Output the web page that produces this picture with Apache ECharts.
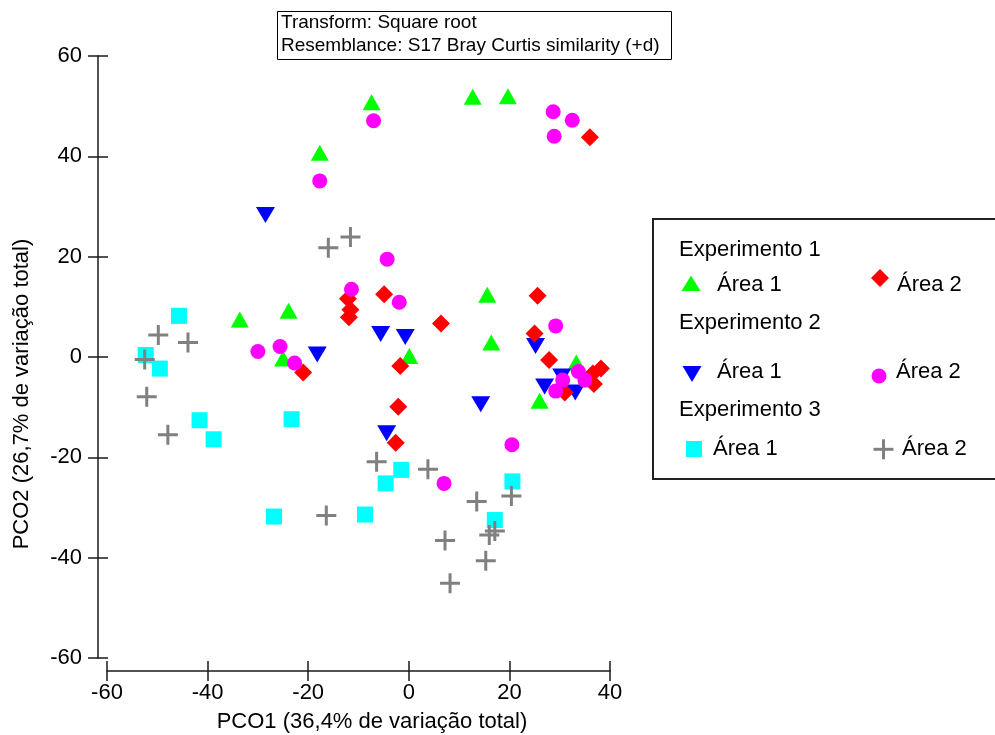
<!DOCTYPE html>
<html>
<head>
<meta charset="utf-8">
<script src="https://cdn.jsdelivr.net/npm/echarts@6/dist/echarts.min.js"></script>
<style>
  html, body { margin: 0; padding: 0; background: #ffffff; }
  #chart { width: 995px; height: 735px; }
</style>
</head>
<body>
<div id="chart"></div>
<script>
// PCO scores (PCO1, PCO2) per experiment and area
const exp1Area1 = [[-33.6, 7.5], [-23.9, 9.2], [-25.0, -0.3], [0.1, 0.2], [15.6, 12.4], [16.4, 2.9],
  [33.3, -1.1], [26.0, -8.7], [-7.4, 50.8], [-17.7, 40.7], [12.7, 51.9], [19.7, 52.0]];
const exp1Area2 = [[-21.0, -3.1], [-12.1, 11.6], [-11.6, 9.4], [-11.9, 7.9], [-4.9, 12.5], [6.4, 6.7],
  [-1.7, -1.8], [-2.1, -9.9], [-2.6, -17.1], [25.6, 12.2], [25.0, 4.7], [27.9, -0.6], [38.2, -2.3],
  [36.6, -3.3], [36.8, -5.4], [31.0, -7.1], [36.0, 43.8]];
const exp2Area1 = [[-28.5, 28.3], [-18.2, 0.5], [-5.6, 4.6], [-0.7, 4.0], [-4.4, -15.2], [25.2, 2.2],
  [30.4, -3.9], [27.0, -5.9], [33.1, -7.1], [14.3, -9.4]];
const exp2Area2 = [[-30.0, 1.1], [-25.6, 2.1], [-22.7, -1.2], [-4.3, 19.5], [-11.4, 13.5], [-1.9, 10.9],
  [29.2, 6.2], [33.7, -2.9], [35.0, -4.6], [30.6, -4.6], [29.2, -6.8], [20.5, -17.5], [7.0, -25.2],
  [-7.0, 47.1], [-17.7, 35.1], [28.7, 48.9], [32.5, 47.2], [28.9, 44.0]];
const exp3Area1 = [[-45.7, 8.2], [-52.3, 0.4], [-49.5, -2.3], [-41.6, -12.6], [-38.8, -16.4], [-23.3, -12.4],
  [-26.8, -31.8], [-8.7, -31.4], [-1.5, -22.5], [-4.6, -25.2], [20.6, -24.8], [17.1, -32.5]];
const exp3Area2 = [[-49.8, 4.4], [-43.9, 2.9], [-52.5, -0.5], [-52.1, -7.9], [-47.9, -15.5], [-16.0, 21.8],
  [-11.6, 23.9], [-16.4, -31.6], [-6.4, -20.9], [3.8, -22.4], [20.4, -27.7], [13.5, -28.8], [17.1, -34.7],
  [16.0, -35.5], [7.2, -36.6], [15.3, -40.6], [8.2, -45.1]];

const xRange = { min: -60, max: 40, interval: 20 };
const yRange = { min: -60, max: 60, interval: 20 };

const xTitle = 'PCO1 (36,4% de variação total)';
const yTitle = 'PCO2 (26,7% de variação total)';
const infoLines = ['Transform: Square root', 'Resemblance: S17 Bray Curtis similarity (+d)'];
const groupTitles = ['Experimento 1', 'Experimento 2', 'Experimento 3'];
const areaNames = ['Área 1', 'Área 2'];

const FONT = "'Liberation Sans', Arial, sans-serif";
const AXIS_COLOR = '#1a1a1a';
const PLUS = 'path://M8.5,0H11.5V8.5H20V11.5H11.5V20H8.5V11.5H0V8.5H8.5Z';

const chart = echarts.init(document.getElementById('chart'), null, { renderer: 'canvas' });

function mainAxis(range, offset) {
  return {
    type: 'value', min: range.min, max: range.max, interval: range.interval, offset: offset,
    axisLine: { show: true, onZero: false, lineStyle: { color: AXIS_COLOR, width: 1.5 } },
    axisTick: { show: true, inside: false, length: 10, lineStyle: { color: AXIS_COLOR, width: 1.5 } },
    axisLabel: { color: '#000', fontFamily: FONT, fontSize: 22 },
    splitLine: { show: false }
  };
}
function innerTicks(range, offset) {
  return {
    type: 'value', min: range.min, max: range.max, interval: range.interval, offset: offset,
    axisLine: { show: false, onZero: false },
    axisTick: { show: true, inside: true, length: 10, lineStyle: { color: AXIS_COLOR, width: 1.5 } },
    axisLabel: { show: false },
    splitLine: { show: false }
  };
}

const xMain = mainAxis(xRange, 13); xMain.position = 'bottom'; xMain.axisLabel.margin = 11;
const xIn = innerTicks(xRange, 13); xIn.position = 'bottom';
const yMain = mainAxis(yRange, 9); yMain.position = 'left'; yMain.axisLabel.margin = 16;
const yIn = innerTicks(yRange, 9); yIn.position = 'left';

function scatter(name, data, symbol, size, color, rotate) {
  return {
    name: name, type: 'scatter', data: data, xAxisIndex: 0, yAxisIndex: 0,
    symbol: symbol, symbolSize: size, symbolRotate: rotate || 0,
    itemStyle: { color: color, opacity: 1 },
    emphasis: { disabled: true }, animation: false
  };
}

const series = [
  scatter('Experimento 1 Área 1', exp1Area1, 'triangle', [18, 16], '#00ff00'),
  scatter('Experimento 2 Área 1', exp2Area1, 'triangle', [19, 16], '#0000ff', 180),
  scatter('Experimento 1 Área 2', exp1Area2, 'diamond', [18, 18], '#ff0000'),
  scatter('Experimento 2 Área 2', exp2Area2, 'circle', 15, '#ff00ff'),
  scatter('Experimento 3 Área 1', exp3Area1, 'rect', 16, '#00ffff'),
  scatter('Experimento 3 Área 2', exp3Area2, PLUS, 20, '#808080')
];

// Key drawn inside a framed box on the right
const keyText = (t, x, y) => ({ type: 'text', x: x, y: y, silent: true,
  style: { text: t, fontFamily: FONT, fontSize: 22, fill: '#000', align: 'left', verticalAlign: 'middle' } });

const keyElements = [
  { type: 'rect', shape: { x: 653, y: 219, width: 360, height: 260 },
    style: { fill: '#fff', stroke: '#222', lineWidth: 2 }, silent: true },
  keyText(groupTitles[0], 679, 250),
  { type: 'polygon', shape: { points: [[691, 275.5], [700.5, 291], [681.5, 291]] }, style: { fill: '#00ff00' }, silent: true },
  keyText(areaNames[0], 717, 285),
  { type: 'polygon', shape: { points: [[880, 269], [889, 278], [880, 287], [871, 278]] }, style: { fill: '#ff0000' }, silent: true },
  keyText(areaNames[1], 897, 285),
  keyText(groupTitles[1], 679, 323),
  { type: 'polygon', shape: { points: [[682.5, 366], [701.5, 366], [692, 382]] }, style: { fill: '#0000ff' }, silent: true },
  keyText(areaNames[0], 717, 372),
  { type: 'circle', shape: { cx: 879, cy: 376, r: 7.5 }, style: { fill: '#ff00ff' }, silent: true },
  keyText(areaNames[1], 896, 372),
  keyText(groupTitles[2], 679, 410),
  { type: 'rect', shape: { x: 686, y: 441, width: 16, height: 16 }, style: { fill: '#00ffff' }, silent: true },
  keyText(areaNames[0], 713, 449),
  { type: 'rect', shape: { x: 873.5, y: 447.8, width: 20, height: 3 }, style: { fill: '#808080' }, silent: true },
  { type: 'rect', shape: { x: 882, y: 439.3, width: 3, height: 20 }, style: { fill: '#808080' }, silent: true },
  keyText(areaNames[1], 902, 449)
];

const infoElements = [
  { type: 'rect', shape: { x: 277.5, y: 11.5, width: 394, height: 48 },
    style: { fill: '#fff', stroke: '#000', lineWidth: 1 }, silent: true },
  { type: 'text', x: 281, y: 23, silent: true,
    style: { text: infoLines[0], fontFamily: FONT, fontSize: 19, fill: '#000', align: 'left', verticalAlign: 'middle' } },
  { type: 'text', x: 281, y: 46, silent: true,
    style: { text: infoLines[1], fontFamily: FONT, fontSize: 19, fill: '#000', align: 'left', verticalAlign: 'middle' } }
];

const axisTitles = [
  { type: 'text', x: 372, y: 722, silent: true,
    style: { text: xTitle, fontFamily: FONT, fontSize: 22, fill: '#000', align: 'center', verticalAlign: 'middle' } },
  { type: 'text', x: 22, y: 394, rotation: Math.PI / 2, silent: true,
    style: { text: yTitle, fontFamily: FONT, fontSize: 22, fill: '#000', align: 'center', verticalAlign: 'middle' } }
];

chart.setOption({
  backgroundColor: '#ffffff',
  animation: false,
  grid: { left: 107, right: 385, top: 56, bottom: 77, containLabel: false, outerBoundsMode: 'none' },
  xAxis: [xMain, xIn],
  yAxis: [yMain, yIn],
  tooltip: { show: false },
  series: series,
  graphic: { elements: infoElements.concat(keyElements, axisTitles) }
});
</script>
</body>
</html>
